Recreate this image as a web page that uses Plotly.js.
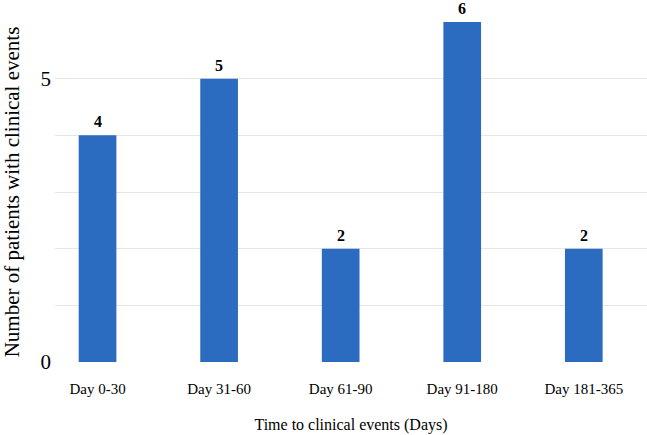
<!DOCTYPE html>
<html>
<head>
<meta charset="utf-8">
<script src="https://cdn.plot.ly/plotly-3.0.1.min.js"></script>
<style>
  html, body { margin: 0; padding: 0; background: #fff; }
  #chart { width: 647px; height: 435px; }
</style>
</head>
<body>
<div id="chart"></div>
<script>
// Time windows and number of patients with clinical events
let categories = ["Day 0-30", "Day 31-60", "Day 61-90", "Day 91-180", "Day 181-365"];
let patients = [4, 5, 2, 6, 2];
let yTicks = [0, 5];

let serif = "Liberation Serif";

// Set up the bar trace
let bars = {
    x: categories,
    y: patients,
    type: "bar",
    marker: {color: "#2b6bc0"},
    hoverinfo: "x+y"
};

// Value labels above each bar
let labels = categories.map((c, i) => ({
    x: c,
    y: patients[i],
    text: "<b>" + patients[i] + "</b>",
    showarrow: false,
    yanchor: "bottom",
    yshift: 3,
    font: {family: serif, size: 16, color: "#000"}
}));

// Set up the Layout
let layout = {
    width: 647,
    height: 435,
    margin: {l: 55, r: 0, t: 22, b: 73},
    paper_bgcolor: "#fff",
    plot_bgcolor: "#fff",
    bargap: 0.69,
    showlegend: false,
    font: {family: serif, color: "#000"},
    xaxis: {
        type: "category",
        range: [-0.35, 4.52],
        showline: false,
        ticks: "",
        showgrid: false,
        ticklabelstandoff: 16,
        tickfont: {family: serif, size: 15, color: "#000"},
        title: {
            text: "Time to clinical events (Days)",
            font: {family: serif, size: 16, color: "#000"},
            standoff: 22
        }
    },
    yaxis: {
        range: [0, 6],
        tickvals: yTicks,
        ticks: "",
        showline: false,
        zeroline: false,
        gridcolor: "#e6e6e6",
        minor: {dtick: 1, showgrid: true, gridcolor: "#e6e6e6"},
        ticklabelstandoff: 3,
        tickfont: {family: serif, size: 21, color: "#000"},
        title: {
            text: "Number of patients with clinical events",
            font: {family: serif, size: 21, color: "#000"},
            standoff: 17
        }
    },
    annotations: labels
};

Plotly.newPlot("chart", [bars], layout, {displayModeBar: false, staticPlot: true});
</script>
</body>
</html>
